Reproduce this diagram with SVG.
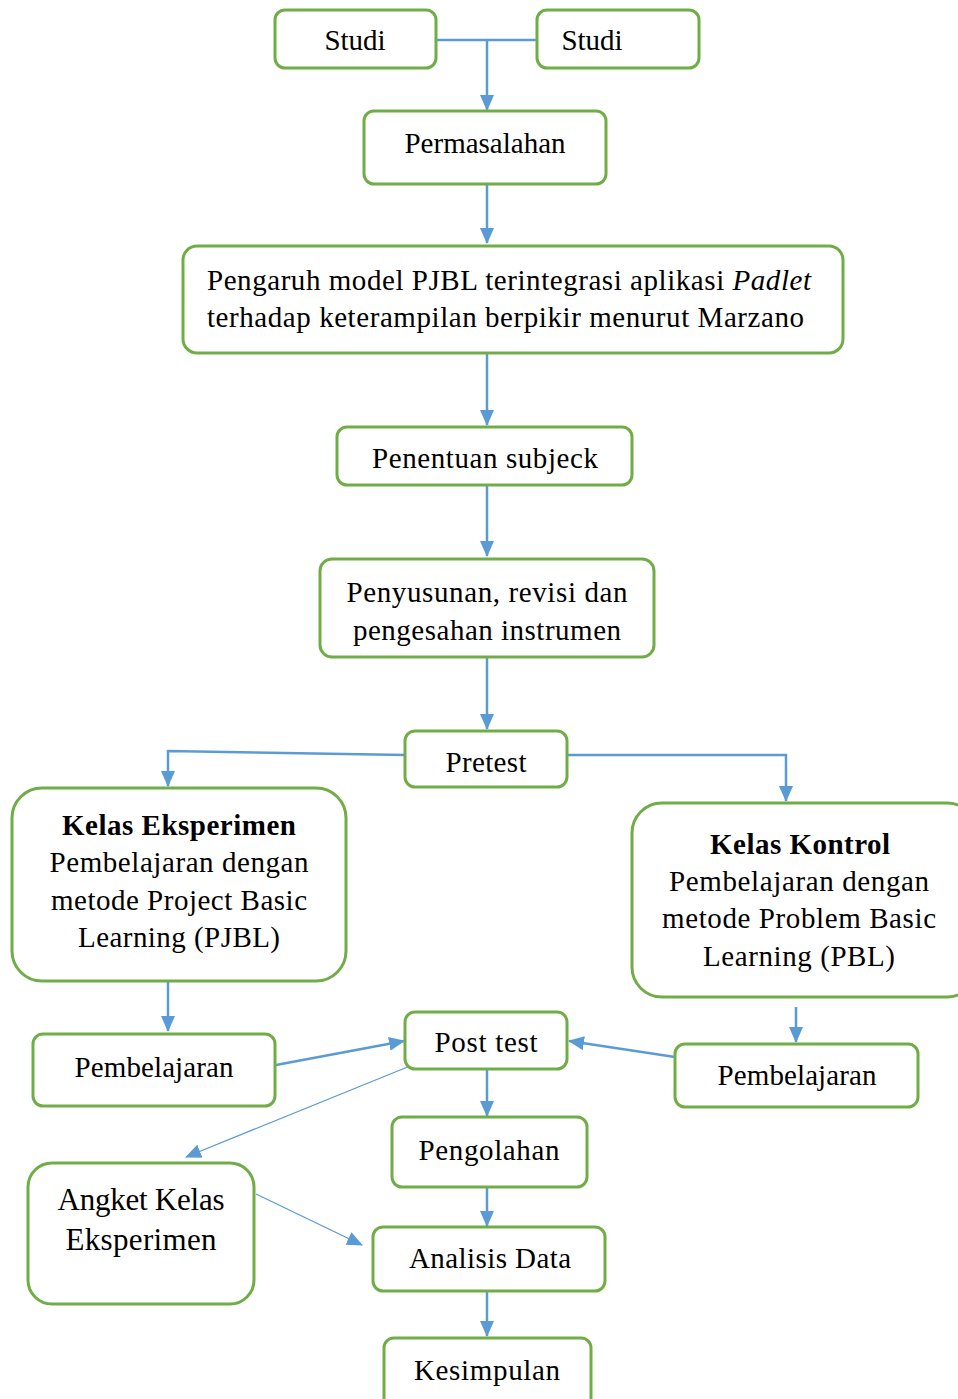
<svg xmlns="http://www.w3.org/2000/svg" width="958" height="1399" viewBox="0 0 958 1399">
<defs>
<style>
.box{fill:#fff;stroke:#70AD47;stroke-width:3}
.t{font-family:"Liberation Serif","Times New Roman",serif;font-size:29px;fill:#000;text-anchor:middle}
.b{font-weight:bold}
.c{fill:none;stroke:#5B9BD5;stroke-width:2.5}
.thin{fill:none;stroke:#5B9BD5;stroke-width:1.3}
</style>
<marker id="ah" markerUnits="userSpaceOnUse" markerWidth="16" markerHeight="16" viewBox="0 0 16 16" refX="15" refY="8" orient="auto">
<path d="M0,1 L16,8 L0,15 Z" fill="#5B9BD5"/>
</marker>
</defs>
<rect width="958" height="1399" fill="#fff"/>
<g id="connectors">
<path class="c" d="M436,40 H537"/>
<path class="c" d="M487,40 V110" marker-end="url(#ah)"/>
<path class="c" d="M487,184 V243" marker-end="url(#ah)"/>
<path class="c" d="M487,353 V425" marker-end="url(#ah)"/>
<path class="c" d="M487,485 V556" marker-end="url(#ah)"/>
<path class="c" d="M487,657 V729" marker-end="url(#ah)"/>
<path class="c" d="M405,755 L168,751 V786" marker-end="url(#ah)"/>
<path class="c" d="M567,755 H786 V801" marker-end="url(#ah)"/>
<path class="c" d="M168,981 V1031" marker-end="url(#ah)"/>
<path class="c" d="M796,1007 V1042" marker-end="url(#ah)"/>
<path class="c" d="M276,1065 L404,1041" marker-end="url(#ah)"/>
<path class="c" d="M675,1057 L569,1041" marker-end="url(#ah)"/>
<path class="thin" d="M410,1066 L186,1157" marker-end="url(#ah)"/>
<path class="c" d="M487,1069 V1116" marker-end="url(#ah)"/>
<path class="c" d="M487,1177 V1226" marker-end="url(#ah)"/>
<path class="thin" d="M256,1194 L362,1245" marker-end="url(#ah)"/>
<path class="c" d="M487,1283 V1336" marker-end="url(#ah)"/>
</g>
<g id="studi1"><rect class="box" x="275" y="10" width="161" height="58" rx="10"/><text class="t" x="355" y="50">Studi</text></g>
<g id="studi2"><rect class="box" x="537" y="10" width="162" height="58" rx="10"/><text class="t" x="592" y="50">Studi</text></g>
<g id="permasalahan"><rect class="box" x="364" y="111" width="242" height="73" rx="10"/><text class="t" x="485" y="153">Permasalahan</text></g>
<g id="pengaruh"><rect class="box" x="183" y="246" width="660" height="107" rx="14"/>
<text class="t" x="207" y="290" style="text-anchor:start" textLength="604" lengthAdjust="spacing">Pengaruh model PJBL terintegrasi aplikasi <tspan font-style="italic">Padlet</tspan></text>
<text class="t" x="207" y="327" style="text-anchor:start" textLength="597" lengthAdjust="spacing">terhadap keterampilan berpikir menurut Marzano</text></g>
<g id="penentuan"><rect class="box" x="337" y="427" width="295" height="58" rx="10"/><text class="t" x="485" y="468" textLength="226" lengthAdjust="spacing">Penentuan subjeck</text></g>
<g id="penyusunan"><rect class="box" x="320" y="559" width="334" height="98" rx="12"/><text class="t" x="487" y="602" textLength="281" lengthAdjust="spacing">Penyusunan, revisi dan</text><text class="t" x="487" y="640" textLength="268" lengthAdjust="spacing">pengesahan instrumen</text></g>
<g id="pretest"><rect class="box" x="405" y="731" width="162" height="56" rx="10"/><text class="t" x="486" y="772" textLength="81" lengthAdjust="spacing">Pretest</text></g>
<g id="kelas-eksperimen"><rect class="box" x="12" y="788" width="334" height="193" rx="30"/>
<text class="t b" x="179" y="835" textLength="234" lengthAdjust="spacing">Kelas Eksperimen</text>
<text class="t" x="179" y="872" textLength="259" lengthAdjust="spacing">Pembelajaran dengan</text>
<text class="t" x="179" y="910" textLength="256" lengthAdjust="spacing">metode Project Basic</text>
<text class="t" x="179" y="947" textLength="202" lengthAdjust="spacing">Learning (PJBL)</text></g>
<g id="kelas-kontrol"><rect class="box" x="632" y="803" width="345" height="194" rx="30"/>
<text class="t b" x="800" y="854" textLength="180" lengthAdjust="spacing">Kelas Kontrol</text>
<text class="t" x="799" y="891" textLength="260" lengthAdjust="spacing">Pembelajaran dengan</text>
<text class="t" x="799" y="928" textLength="274" lengthAdjust="spacing">metode Problem Basic</text>
<text class="t" x="799" y="966" textLength="192" lengthAdjust="spacing">Learning (PBL)</text></g>
<g id="pembelajaran-left"><rect class="box" x="33" y="1034" width="242" height="72" rx="10"/><text class="t" x="154" y="1077" textLength="159" lengthAdjust="spacing">Pembelajaran</text></g>
<g id="pembelajaran-right"><rect class="box" x="675" y="1044" width="243" height="63" rx="10"/><text class="t" x="797" y="1085" textLength="159" lengthAdjust="spacing">Pembelajaran</text></g>
<g id="post-test"><rect class="box" x="405" y="1012" width="162" height="57" rx="10"/><text class="t" x="486" y="1052" textLength="103" lengthAdjust="spacing">Post test</text></g>
<g id="pengolahan"><rect class="box" x="392" y="1117" width="195" height="70" rx="10"/><text class="t" x="489" y="1160" textLength="141" lengthAdjust="spacing">Pengolahan</text></g>
<g id="angket"><rect class="box" x="28" y="1163" width="226" height="141" rx="24"/><text class="t" x="141" y="1210" style="font-size:31px" textLength="167" lengthAdjust="spacing">Angket Kelas</text><text class="t" x="141" y="1250" style="font-size:31px" textLength="151" lengthAdjust="spacing">Eksperimen</text></g>
<g id="analisis"><rect class="box" x="373" y="1227" width="232" height="64" rx="10"/><text class="t" x="490" y="1268" textLength="162" lengthAdjust="spacing">Analisis Data</text></g>
<g id="kesimpulan"><rect class="box" x="384" y="1338" width="207" height="70" rx="10"/><text class="t" x="487" y="1380" textLength="146" lengthAdjust="spacing">Kesimpulan</text></g>
</svg>
